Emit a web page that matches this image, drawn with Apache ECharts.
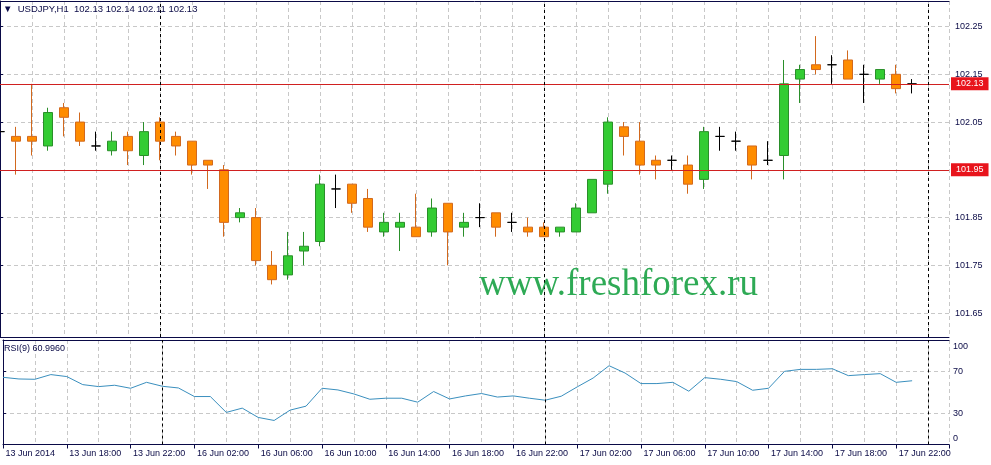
<!DOCTYPE html>
<html><head><meta charset="utf-8">
<script src="https://cdn.jsdelivr.net/npm/echarts@6/dist/echarts.min.js"></script>
<style>html,body{margin:0;padding:0;background:#fff;overflow:hidden}#c{width:991px;height:465px}</style>
</head><body><div id="c"></div>
<script>
// ---- data (hour index k: 0 = 13 Jun 14:00 ... 57 = 17 Jun 23:00) ----
const opens  = [102.03,102.02,102.02,102.00,102.08,102.05,102.00,101.99,102.02,101.98,102.05,102.02,102.01,101.97,101.95,101.85,101.85,101.75,101.73,101.78,101.80,101.91,101.92,101.89,101.82,101.83,101.83,101.82,101.88,101.83,101.85,101.86,101.84,101.83,101.83,101.82,101.82,101.86,101.92,102.04,102.01,101.97,101.97,101.96,101.93,102.02,102.01,102.00,101.97,101.98,102.14,102.17,102.17,102.18,102.15,102.14,102.15,102.13];
const closes = [102.03,102.01,102.01,102.07,102.06,102.01,102.00,102.01,101.99,102.03,102.01,102.00,101.96,101.96,101.84,101.86,101.76,101.72,101.77,101.79,101.92,101.91,101.88,101.83,101.84,101.84,101.81,101.87,101.82,101.84,101.85,101.83,101.84,101.82,101.81,101.83,101.87,101.93,102.05,102.02,101.96,101.96,101.97,101.92,102.03,102.02,102.01,101.96,101.97,102.13,102.16,102.16,102.17,102.14,102.15,102.16,102.12,102.13];
const lows   = [102.00,101.94,101.98,101.99,102.02,102.00,101.99,101.98,101.96,101.96,101.97,101.98,101.94,101.91,101.81,101.84,101.75,101.71,101.72,101.75,101.79,101.87,101.86,101.82,101.81,101.78,101.81,101.81,101.75,101.81,101.83,101.81,101.82,101.81,101.81,101.81,101.82,101.86,101.90,101.98,101.94,101.93,101.95,101.90,101.91,101.99,101.99,101.93,101.96,101.93,102.09,102.15,102.13,102.14,102.09,102.13,102.11,102.11];
const highs  = [102.06,102.04,102.13,102.08,102.09,102.07,102.03,102.03,102.03,102.05,102.06,102.03,102.01,101.97,101.96,101.87,101.87,101.78,101.82,101.82,101.94,101.94,101.92,101.91,101.86,101.86,101.90,101.89,101.88,101.86,101.88,101.86,101.86,101.85,101.84,101.83,101.88,101.93,102.06,102.05,102.05,101.98,101.98,101.98,102.04,102.04,102.03,102.00,102.01,102.18,102.17,102.23,102.19,102.20,102.17,102.16,102.17,102.14];
const rsiValues = [64.3,62.7,62.4,66.9,65,57.3,55.4,56.7,53.8,59.5,55.7,54.1,45.9,45.9,30.7,34.8,25.9,23,32.9,36.7,53.8,52.2,48.4,43.3,44.3,44.3,40.5,50.7,43.6,46.5,48.8,45.4,46.5,44.3,42.4,46.2,55.1,63.6,75.4,68.4,58.3,58.3,59.5,51,64,62.4,60.2,51.9,53.8,70,71.9,71.9,72.5,65.9,66.9,67.8,59.5,61.0];
const timeLabels = ['13 Jun 2014','13 Jun 18:00','13 Jun 22:00','16 Jun 02:00','16 Jun 06:00','16 Jun 10:00','16 Jun 14:00','16 Jun 18:00','16 Jun 22:00','17 Jun 02:00','17 Jun 06:00','17 Jun 10:00','17 Jun 14:00','17 Jun 18:00','17 Jun 22:00'];
const priceTicks = [101.65,101.75,101.85,101.95,102.05,102.15,102.25];
const rsiLabelTicks = [0,30,70,100];
const rsiLevels = [30,70];
const levelValues = [102.125,101.95];
const levelLabels = ['102.13','101.95'];
const daySeparators = [10,34,58];
const headerText = '\u25BC  USDJPY,H1  102.13 102.14 102.11 102.13';
const rsiTitle = 'RSI(9) 60.9960';
const watermark = 'www.freshforex.ru';

// ---- layout / style ----
const NAVY = '#0a0a46';
const GRIDC = '#c8c8c8';
const FONT = 'Liberation Sans';
const X_MAX = 949 / 16;
const P_MIN = 101.60, P_MAX = 102.3035;

const candleData = opens.map((o, k) => [k, o, closes[k], lows[k], highs[k]]);
const rsiData = rsiValues.map((v, k) => [k, v]);

const chart = echarts.init(document.getElementById('c'), null, {renderer: 'canvas'});

function xAx(grid, pos, opts) {
  return Object.assign({
    type: 'value', gridIndex: grid, position: pos, min: 0, max: X_MAX, interval: 2,
    axisLine: {show: true, onZero: false, lineStyle: {color: NAVY, width: 1}},
    axisTick: {show: false}, axisLabel: {show: false}, splitLine: {show: false}
  }, opts);
}
const dashed = {show: true, lineStyle: {color: GRIDC, type: [4, 3], width: 1}};
const sepLine = {color: '#000', type: [3, 3], width: 1};

const option = {
  animation: false,
  backgroundColor: '#fff',
  textStyle: {fontFamily: FONT},
  title: [
    {text: headerText, left: 3, top: 4, padding: 0, textStyle: {fontSize: 9.5, fontWeight: 'normal', color: NAVY, fontFamily: FONT}},
    {text: rsiTitle, left: 4, top: 344, padding: 0, textStyle: {fontSize: 9, fontWeight: 'normal', color: NAVY, fontFamily: FONT}},
    {text: watermark, left: 479, top: 267, padding: 0, textStyle: {fontSize: 37, fontWeight: 'normal', color: '#2eaa55', fontFamily: 'Liberation Serif'}}
  ],
  grid: [
    {left: 0, right: 42, top: 1, height: 336, show: false},
    {left: 0, right: 42, top: 340, height: 104.5, show: false}
  ],
  xAxis: [
    xAx(0, 'bottom', {splitLine: dashed}),
    xAx(0, 'top', {}),
    xAx(1, 'bottom', {interval: 4,
      axisTick: {show: true, length: 4, lineStyle: {color: NAVY}},
      axisLabel: {show: true, align: 'left', margin: 5, fontSize: 9, color: NAVY, fontFamily: FONT,
        formatter: v => (Math.abs(v / 4 - Math.round(v / 4)) < 1e-9 && timeLabels[Math.round(v / 4)] !== undefined) ? ' ' + timeLabels[Math.round(v / 4)] : ''}}),
    xAx(1, 'top', {splitLine: dashed})
  ],
  yAxis: [
    {type: 'value', gridIndex: 0, position: 'right', min: P_MIN, max: P_MAX,
      axisLine: {show: true, lineStyle: {color: NAVY}},
      axisTick: {show: true, length: 3, customValues: priceTicks, lineStyle: {color: NAVY}},
      axisLabel: {show: true, customValues: priceTicks, margin: 6, fontSize: 9, color: NAVY, fontFamily: FONT, formatter: v => v.toFixed(2)},
      splitLine: dashed},
    {type: 'value', gridIndex: 1, position: 'right', min: 0, max: 100,
      axisLine: {show: true, lineStyle: {color: NAVY}},
      axisTick: {show: true, length: 3, customValues: rsiLevels, lineStyle: {color: NAVY}},
      axisLabel: {show: true, customValues: rsiLabelTicks, margin: 4, fontSize: 9, color: NAVY, fontFamily: FONT,
        formatter: v => v === 100 ? '{t|100}' : (v === 0 ? '{b|0}' : String(v)),
        rich: {t: {padding: [14, 0, 0, 0], fontSize: 9, color: NAVY}, b: {padding: [0, 0, 11, 0], fontSize: 9, color: NAVY}}},
      splitLine: dashed}
  ],
  series: [
    {type: 'candlestick', xAxisIndex: 0, yAxisIndex: 0, data: candleData, barWidth: 10,
      itemStyle: {color: '#33cc33', color0: '#ff8c00', borderColor: '#2a8f2a', borderColor0: '#d2691e', borderColorDoji: '#000', borderWidth: 1},
      markLine: {silent: true, symbol: ['none', 'none'], animation: false,
        data: levelValues.map((v, i) => ({yAxis: v,
            lineStyle: {color: '#d02020', type: 'solid', width: 1},
            label: {show: true, position: 'end', formatter: levelLabels[i], distance: 2, color: '#fff', backgroundColor: '#e8141c', padding: [2, 5, 2, 5], fontSize: 9, fontFamily: FONT}}))
          .concat(daySeparators.map(k => ({xAxis: k, lineStyle: sepLine, label: {show: false}})))}
    },
    {type: 'line', xAxisIndex: 2, yAxisIndex: 1, data: rsiData, symbol: 'none',
      lineStyle: {color: '#3a8fbe', width: 1},
      markLine: {silent: true, symbol: ['none', 'none'], animation: false,
        data: daySeparators.map(k => ({xAxis: k, lineStyle: sepLine, label: {show: false}}))}
    }
  ]
};
chart.setOption(option);
</script>
</body></html>
